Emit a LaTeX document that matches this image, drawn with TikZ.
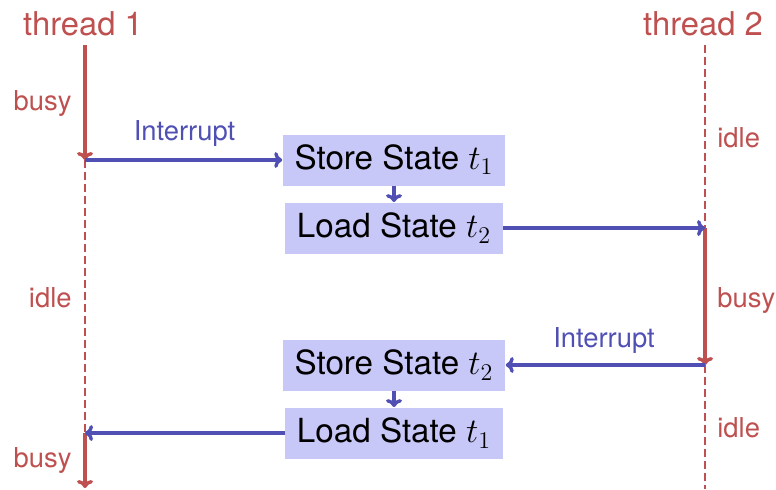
\documentclass[tikz,border=0pt]{standalone}
\usepackage{fontspec}
\setmainfont{TeX Gyre Heros}
\usetikzlibrary{arrows.meta}
\definecolor{thr}{RGB}{190,80,80}
\definecolor{msg}{RGB}{80,80,180}
\definecolor{boxc}{RGB}{200,200,248}
\begin{document}
\begin{tikzpicture}[x=0.5pt,y=-0.5pt,
  big/.style={font=\fontsize{16.4}{19}\selectfont},
  boxfont/.style={font=\fontsize{16.6}{19}\selectfont},
  lab/.style={font=\fontsize{13.7}{16}\selectfont, inner sep=0pt},
  statebox/.style={fill=boxc, boxfont, inner xsep=6pt, inner ysep=0pt, minimum height=25.5pt},
  tline/.style={thr, line width=1.7pt, -{To[length=4pt,width=8pt]}},
  idline/.style={thr, line width=1.3pt, dash pattern=on 4pt off 2pt},
  msga/.style={msg, line width=1.7pt, -{To[length=4pt,width=8pt]}}]
\useasboundingbox (0,0) rectangle (776,489);
% thread lines
\coordinate (a0) at (85,45);
\coordinate (a1) at (85,160);
\coordinate (a2) at (85,433);
\coordinate (a3) at (85,488);
\coordinate (b0) at (705,45);
\coordinate (b1) at (705,228);
\coordinate (b2) at (705,365);
\coordinate (b3) at (705,489);
% boxes
\node[statebox] (s1) at (394,160) {Store State $t_1$};
\node[statebox] (l2) at (394,228) {Load State $t_2$};
\node[statebox] (s2) at (394,365) {Store State $t_2$};
\node[statebox] (l1) at (394,433) {Load State $t_1$};
% thread labels
\node[big, thr, anchor=base] (th1) at (83,35) {thread 1};
\node[big, thr, anchor=base] (th2) at (703,35) {thread 2};
% thread segments
\draw[idline] (a1) -- (a2);
\draw[idline] (b0) -- (b1);
\draw[idline] (b2) -- (b3);
\draw[tline] (a0) -- (a1);
\draw[tline] (b1) -- (b2);
\draw[tline] (a2) -- (a3);
% messages
\draw[msga] (a1) -- (s1.west);
\draw[msga] (s1.south) -- (l2.north);
\draw[msga] (l2.east) -- (b1);
\draw[msga] (b2) -- (s2.east);
\draw[msga] (s2.south) -- (l1.north);
\draw[msga] (l1.west) -- (a2);
% labels
\node[lab, thr, anchor=base east] (lb1) at (72,110) {busy};
\node[lab, thr, anchor=base east] (li1) at (72,307) {idle};
\node[lab, thr, anchor=base east] (lb2) at (72,467) {busy};
\node[lab, thr, anchor=base west] (ri1) at (717,147) {idle};
\node[lab, thr, anchor=base west] (rb1) at (717,307) {busy};
\node[lab, thr, anchor=base west] (ri2) at (717,437) {idle};
\node[lab, msg, anchor=base] (int1) at (184.5,140) {Interrupt};
\node[lab, msg, anchor=base] (int2) at (604,347) {Interrupt};
\end{tikzpicture}
\end{document}
